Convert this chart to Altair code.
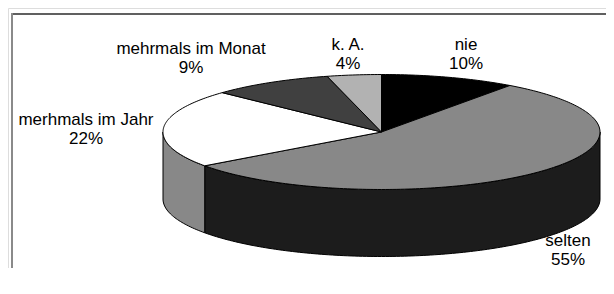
import math
import altair as alt
import pandas as pd

# ---- data ----
categories = ["nie", "selten", "merhmals im Jahr", "mehrmals im Monat", "k. A."]
percent = [10, 55, 22, 9, 4]

# ---- styling / layout ----
top_colors = ["#000000", "#888888", "#ffffff", "#404040", "#b2b2b2"]
side_colors = ["#000000", "#1c1c1c", "#888888", "#202020", "#707070"]
label_x = [466, 568, 86, 191, 348]
label_y = [50, 246, 125, 54, 50]

CX, CY, RX, RY, DEPTH = 381.5, 132.0, 218.5, 57.5, 67.0
W, H = 598, 260  # chart covers page pixels 8..606 x 8..268 (no page overflow)


def pt(theta_deg, dy=0.0):
    t = math.radians(theta_deg)
    return CX + RX * math.sin(t), CY - RY * math.cos(t) + dy


def arc_angles(s, e):
    n = max(2, int(math.ceil(abs(e - s))) + 1)
    return [s + (e - s) * k / (n - 1) for k in range(n)]


top_rows, side_rows = [], []
fill_domain, fill_range = [], []
start = 0.0
for cat, p, tc, sc in zip(categories, percent, top_colors, side_colors):
    s, e = start * 3.6, (start + p) * 3.6
    start += p
    key = "top-" + cat
    fill_domain.append(key)
    fill_range.append(tc)
    pts = [(CX, CY)] + [pt(a) for a in arc_angles(s, e)] + [(CX, CY)]
    for k, (x, y) in enumerate(pts):
        top_rows.append(dict(key=key, order=k, x=x, y=y))
    lo, hi = max(s, 90.0), min(e, 270.0)
    if hi > lo:
        key = "side-" + cat
        fill_domain.append(key)
        fill_range.append(sc)
        angs = arc_angles(lo, hi)
        spts = [pt(a) for a in angs] + [pt(a, DEPTH) for a in reversed(angs)]
        spts.append(spts[0])
        for k, (x, y) in enumerate(spts):
            side_rows.append(dict(key=key, order=k, x=x, y=y))

labels = pd.DataFrame(
    dict(
        text=[f"{c}\n{p}%" for c, p in zip(categories, percent)],
        x=label_x,
        y=label_y,
    )
)

xs = alt.Scale(domain=[8, 8 + W], nice=False, zero=False)
ys = alt.Scale(domain=[8, 8 + H], nice=False, zero=False, reverse=True)
fs = alt.Scale(domain=fill_domain, range=fill_range)


def poly_layer(rows):
    return (
        alt.Chart(pd.DataFrame(rows))
        .mark_line(stroke="black", strokeWidth=1, strokeJoin="round", interpolate="linear")
        .encode(
            x=alt.X("x:Q", scale=xs, axis=None),
            y=alt.Y("y:Q", scale=ys, axis=None),
            fill=alt.Fill("key:N", scale=fs, legend=None),
            detail="key:N",
            order="order:Q",
        )
    )


sides = poly_layer(side_rows)
tops = poly_layer(top_rows)

text = (
    alt.Chart(labels)
    .mark_text(
        align="center",
        baseline="alphabetic",
        lineBreak="\n",
        lineHeight=19,
        font="Liberation Sans",
        fontSize=17,
        color="black",
    )
    .encode(
        x=alt.X("x:Q", scale=xs, axis=None),
        y=alt.Y("y:Q", scale=ys, axis=None),
        text="text:N",
    )
)

border_top = alt.Chart(pd.DataFrame({"a": [0]})).mark_rule(color="#606060", strokeWidth=2).encode(
    x=alt.value(3), x2=alt.value(W), y=alt.value(6)
)
border_left = alt.Chart(pd.DataFrame({"a": [0]})).mark_rule(color="#8a8a8a", strokeWidth=2).encode(
    x=alt.value(4), y=alt.value(5), y2=alt.value(H)
)

chart = (
    alt.layer(border_top, border_left, sides, tops, text)
    .properties(width=W, height=H, padding=0, autosize=alt.AutoSizeParams(type="none"))
    .configure_view(strokeWidth=0, stroke="transparent")
    .configure(background="white")
)

chart.save("out.html", embed_options={"renderer": "svg", "actions": False})
